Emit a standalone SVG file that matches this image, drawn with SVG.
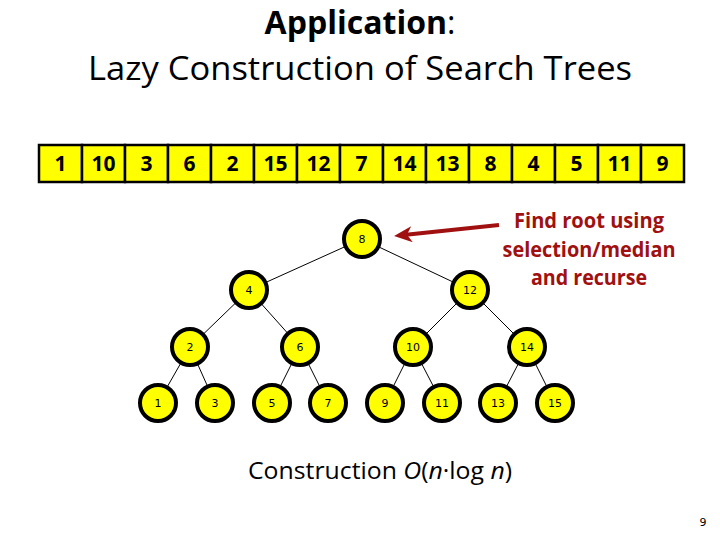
<svg xmlns="http://www.w3.org/2000/svg" width="720" height="540" viewBox="0 0 720 540">
<style>
.title{font-family:"Open Sans","Liberation Sans",sans-serif;font-size:32px;fill:#000}
.cell rect{fill:#ffff00;stroke:#000;stroke-width:2.5}
.cell text{font-family:"Open Sans","Liberation Sans",sans-serif;font-weight:bold;font-size:21px;text-anchor:middle;fill:#000}
.node circle{fill:#ffff00;stroke:#000;stroke-width:4}
.node text{font-family:"DejaVu Sans",Verdana,sans-serif;font-size:11px;text-anchor:middle;fill:#000}
.edge{stroke:#000;stroke-width:1}
.note{font-family:"Open Sans","Liberation Sans",sans-serif;font-weight:bold;font-size:21px;fill:#a01010;text-anchor:middle}
</style>
<defs>
<marker id="ah" markerUnits="userSpaceOnUse" markerWidth="20" markerHeight="16" refX="6" refY="8" orient="auto">
<path d="M0,0 L18,8 L0,16 L5,8 Z" fill="#a01010"/>
</marker>
</defs>
<g id="title">
<text class="title" x="360" y="34" text-anchor="middle"><tspan font-weight="bold">Application</tspan>:</text>
<text class="title" x="88" y="80" textLength="544" lengthAdjust="spacingAndGlyphs">Lazy Construction of Search Trees</text>
</g>
<g id="array" class="cell">
<rect x="39" y="145" width="43" height="37"/><text x="60.5" y="171">1</text>
<rect x="82" y="145" width="43" height="37"/><text x="103.5" y="171">10</text>
<rect x="125" y="145" width="43" height="37"/><text x="146.5" y="171">3</text>
<rect x="168" y="145" width="43" height="37"/><text x="189.5" y="171">6</text>
<rect x="211" y="145" width="43" height="37"/><text x="232.5" y="171">2</text>
<rect x="254" y="145" width="43" height="37"/><text x="275.5" y="171">15</text>
<rect x="297" y="145" width="43" height="37"/><text x="318.5" y="171">12</text>
<rect x="340" y="145" width="43" height="37"/><text x="361.5" y="171">7</text>
<rect x="383" y="145" width="43" height="37"/><text x="404.5" y="171">14</text>
<rect x="426" y="145" width="43" height="37"/><text x="447.5" y="171">13</text>
<rect x="469" y="145" width="43" height="37"/><text x="490.5" y="171">8</text>
<rect x="512" y="145" width="43" height="37"/><text x="533.5" y="171">4</text>
<rect x="555" y="145" width="43" height="37"/><text x="576.5" y="171">5</text>
<rect x="598" y="145" width="43" height="37"/><text x="619.5" y="171">11</text>
<rect x="641" y="145" width="43" height="37"/><text x="662.5" y="171">9</text>
</g>
<g id="connectors">
<line class="edge" x1="362" y1="239" x2="249" y2="290"/>
<line class="edge" x1="362" y1="239" x2="470" y2="290"/>
<line class="edge" x1="249" y1="290" x2="190" y2="347"/>
<line class="edge" x1="249" y1="290" x2="300" y2="347"/>
<line class="edge" x1="470" y1="290" x2="413" y2="347"/>
<line class="edge" x1="470" y1="290" x2="527" y2="347"/>
<line class="edge" x1="190" y1="347" x2="158" y2="403"/>
<line class="edge" x1="190" y1="347" x2="215" y2="403"/>
<line class="edge" x1="300" y1="347" x2="272" y2="403"/>
<line class="edge" x1="300" y1="347" x2="328" y2="403"/>
<line class="edge" x1="413" y1="347" x2="385" y2="403"/>
<line class="edge" x1="413" y1="347" x2="442" y2="403"/>
<line class="edge" x1="527" y1="347" x2="498" y2="403"/>
<line class="edge" x1="527" y1="347" x2="555" y2="403"/>
<line x1="499" y1="225" x2="406" y2="234.8" stroke="#a01010" stroke-width="4" marker-end="url(#ah)"/>
</g>
<g id="n8" class="node"><circle cx="362" cy="239" r="18"/><text x="362" y="243">8</text></g>
<g id="n4" class="node"><circle cx="249" cy="290" r="18"/><text x="249" y="294">4</text></g>
<g id="n12" class="node"><circle cx="470" cy="290" r="18"/><text x="470" y="294">12</text></g>
<g id="n2" class="node"><circle cx="190" cy="347" r="18"/><text x="190" y="351">2</text></g>
<g id="n6" class="node"><circle cx="300" cy="347" r="18"/><text x="300" y="351">6</text></g>
<g id="n10" class="node"><circle cx="413" cy="347" r="18"/><text x="413" y="351">10</text></g>
<g id="n14" class="node"><circle cx="527" cy="347" r="18"/><text x="527" y="351">14</text></g>
<g id="n1" class="node"><circle cx="158" cy="403" r="18"/><text x="158" y="407">1</text></g>
<g id="n3" class="node"><circle cx="215" cy="403" r="18"/><text x="215" y="407">3</text></g>
<g id="n5" class="node"><circle cx="272" cy="403" r="18"/><text x="272" y="407">5</text></g>
<g id="n7" class="node"><circle cx="328" cy="403" r="18"/><text x="328" y="407">7</text></g>
<g id="n9" class="node"><circle cx="385" cy="403" r="18"/><text x="385" y="407">9</text></g>
<g id="n11" class="node"><circle cx="442" cy="403" r="18"/><text x="442" y="407">11</text></g>
<g id="n13" class="node"><circle cx="498" cy="403" r="18"/><text x="498" y="407">13</text></g>
<g id="n15" class="node"><circle cx="555" cy="403" r="18"/><text x="555" y="407">15</text></g>
<g id="note">
<text class="note" x="589" y="228" textLength="150" lengthAdjust="spacingAndGlyphs">Find root using</text>
<text class="note" x="589" y="257" textLength="173" lengthAdjust="spacingAndGlyphs">selection/median</text>
<text class="note" x="589" y="285" textLength="116" lengthAdjust="spacingAndGlyphs">and recurse</text>
</g>
<text x="248" y="479" font-family="Open Sans, Liberation Sans, sans-serif" font-size="24" textLength="264" lengthAdjust="spacingAndGlyphs">Construction <tspan font-style="italic">O</tspan>(<tspan font-style="italic">n</tspan>·log <tspan font-style="italic">n</tspan>)</text>
<text x="703" y="526" font-family="DejaVu Sans, sans-serif" font-size="11" text-anchor="middle">9</text>
</svg>
